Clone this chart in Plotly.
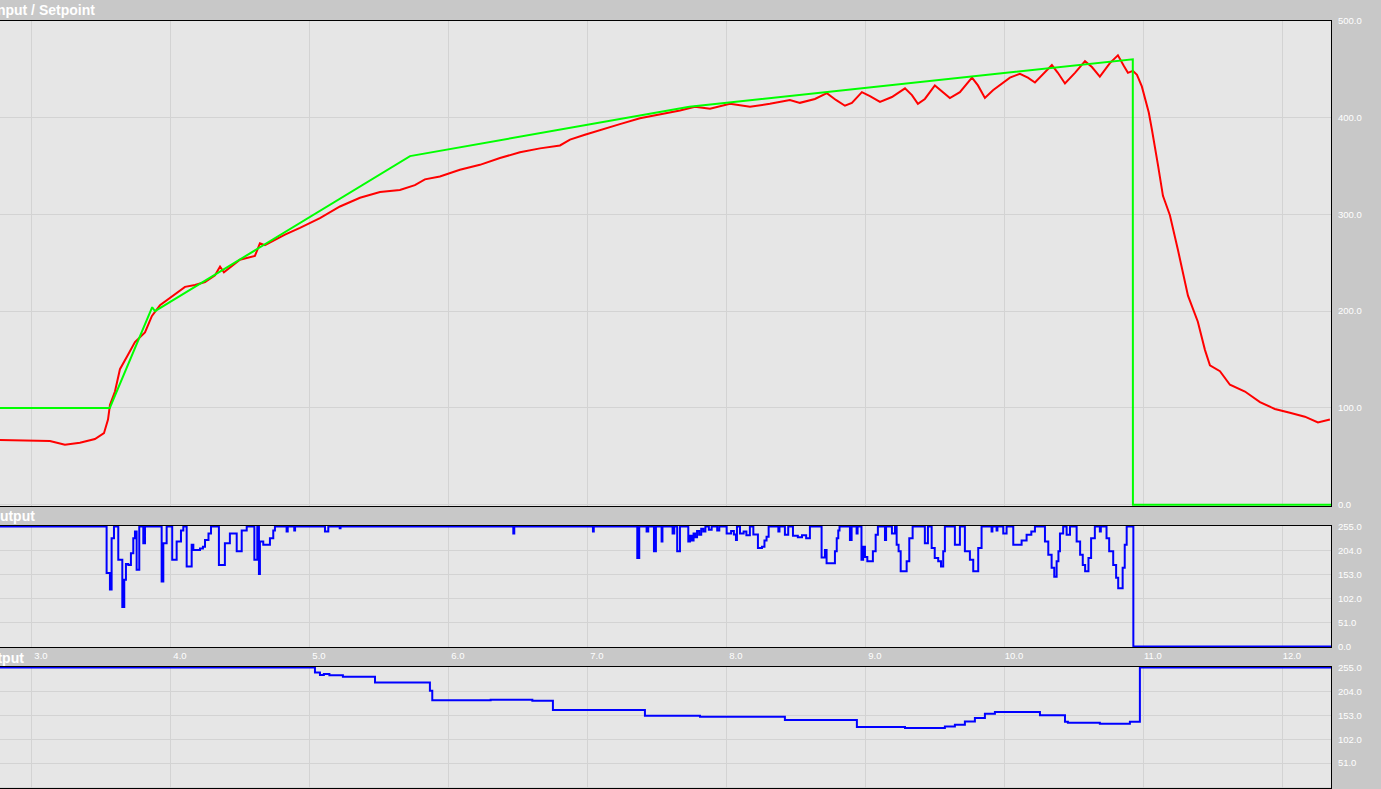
import plotly.graph_objects as go

# ---------------- data ----------------
# Setpoint (green)
sp_t = [2.770, 3.560, 3.865, 3.885, 5.720, 7.730, 10.920, 10.921, 12.346]
sp_v = [100, 100, 204, 200, 360, 411, 460, 0, 0]

# Input (red)
in_t = [2.770, 2.986, 3.129, 3.237, 3.345, 3.453, 3.518, 3.547, 3.561, 3.597,
        3.633, 3.691, 3.741, 3.813, 3.863, 3.921, 3.978, 4.029, 4.101, 4.173,
        4.245, 4.317, 4.353, 4.381, 4.496, 4.604, 4.640, 4.676, 4.820, 4.928,
        5.072, 5.216, 5.360, 5.504, 5.647, 5.755, 5.827, 5.935, 6.079, 6.223,
        6.367, 6.511, 6.655, 6.799, 6.871, 6.978, 7.086, 7.230, 7.374, 7.518,
        7.662, 7.770, 7.878, 8.022, 8.166, 8.309, 8.453, 8.525, 8.633, 8.719,
        8.784, 8.849, 8.899, 8.971, 9.029, 9.101, 9.187, 9.281, 9.331, 9.374,
        9.424, 9.496, 9.547, 9.604, 9.676, 9.763, 9.806, 9.856, 9.914, 9.964,
        10.036, 10.108, 10.165, 10.216, 10.288, 10.338, 10.381, 10.432, 10.504, 10.576,
        10.626, 10.683, 10.755, 10.813, 10.856, 10.885, 10.921, 10.950, 10.985, 11.007,
        11.035, 11.058, 11.080, 11.101, 11.137, 11.187, 11.245, 11.317, 11.388, 11.439,
        11.475, 11.547, 11.619, 11.727, 11.835, 11.942, 12.050, 12.158, 12.252, 12.338]
in_v = [67, 66, 66, 62, 64, 68, 74, 88, 103, 117,
        140, 155, 168, 178, 195, 206, 212, 218, 225, 227,
        230, 237, 246, 240, 253, 257, 270, 268, 279, 286,
        296, 308, 317, 323, 325, 330, 336, 339, 346, 351,
        358, 364, 368, 371, 377, 382, 387, 393, 399, 403,
        407, 411, 409, 414, 411, 414, 418, 415, 419, 425,
        418, 412, 415, 426, 422, 416, 421, 430, 423, 414,
        419, 433, 427, 420, 426, 441, 433, 420, 428, 433,
        441, 445, 441, 436, 446, 454, 446, 435, 446, 458,
        452, 442, 456, 464, 453, 446, 448, 444, 432, 420,
        405, 387, 370, 351, 319, 299, 263, 216, 189, 160,
        144, 138, 124, 117, 106, 99, 95, 91, 85, 88]

# Output (middle panel, blue)
out1_t = [2.770, 3.537, 3.561, 3.573, 3.590, 3.621, 3.650, 3.664, 3.676, 3.693,
          3.712, 3.729, 3.741, 3.753, 3.772, 3.801, 3.813, 3.933, 3.945, 3.969,
          4.009, 4.041, 4.072, 4.089, 4.113, 4.149, 4.161, 4.209, 4.230, 4.245,
          4.270, 4.288, 4.345, 4.388, 4.424, 4.473, 4.509, 4.545, 4.600, 4.621,
          4.633, 4.640, 4.664, 4.712, 4.736, 4.748, 4.832, 4.840, 4.887, 4.893,
          5.108, 5.132, 5.214, 5.220, 6.463, 6.470, 7.036, 7.042, 7.355, 7.369,
          7.422, 7.434, 7.475, 7.489, 7.530, 7.536, 7.609, 7.621, 7.642, 7.662,
          7.722, 7.734, 7.746, 7.760, 7.770, 7.785, 7.800, 7.815, 7.830, 7.845,
          7.870, 7.890, 7.930, 7.945, 7.998, 8.030, 8.050, 8.065, 8.072, 8.094,
          8.120, 8.140, 8.165, 8.190, 8.223, 8.252, 8.270, 8.285, 8.300, 8.370,
          8.378, 8.417, 8.441, 8.475, 8.510, 8.540, 8.570, 8.597, 8.681, 8.705,
          8.717, 8.741, 8.777, 8.790, 8.801, 8.810, 8.885, 8.897, 8.933, 8.940,
          8.968, 8.980, 8.993, 9.010, 9.029, 9.050, 9.070, 9.086, 9.137, 9.145,
          9.187, 9.209, 9.221, 9.235, 9.250, 9.293, 9.312, 9.336, 9.424, 9.446,
          9.473, 9.495, 9.520, 9.540, 9.556, 9.568, 9.640, 9.676, 9.712, 9.748,
          9.772, 9.808, 9.832, 9.904, 9.910, 9.940, 9.946, 9.988, 10.012, 10.060,
          10.096, 10.120, 10.156, 10.190, 10.216, 10.288, 10.312, 10.336, 10.355, 10.372,
          10.385, 10.396, 10.419, 10.444, 10.468, 10.516, 10.541, 10.560, 10.577, 10.601,
          10.620, 10.647, 10.683, 10.690, 10.731, 10.750, 10.779, 10.800, 10.815, 10.847,
          10.862, 10.876, 10.924, 12.346]
out1_v = [255, 156, 121, 230, 255, 184, 84, 142, 175, 173,
          198, 230, 244, 163, 255, 219, 255, 138, 219, 255,
          184, 223, 246, 255, 170, 216, 205, 208, 212, 226,
          240, 255, 173, 219, 240, 202, 246, 255, 184, 255,
          154, 223, 216, 230, 246, 255, 244, 255, 246, 255,
          244, 255, 251, 255, 240, 255, 244, 255, 188, 255,
          244, 255, 202, 255, 223, 255, 240, 255, 202, 255,
          223, 235, 225, 240, 232, 245, 237, 250, 244, 255,
          248, 255, 246, 255, 240, 245, 238, 226, 255, 240,
          244, 236, 255, 238, 209, 212, 225, 233, 255, 244,
          255, 237, 255, 235, 232, 236, 230, 255, 189, 205,
          177, 177, 202, 230, 246, 255, 226, 255, 240, 255,
          184, 212, 190, 181, 181, 202, 237, 255, 226, 255,
          240, 255, 216, 202, 160, 181, 230, 255, 219, 255,
          209, 188, 181, 170, 202, 255, 216, 255, 202, 184,
          160, 209, 255, 244, 255, 246, 255, 240, 255, 216,
          216, 225, 237, 244, 255, 223, 195, 167, 148, 181,
          202, 240, 255, 237, 255, 223, 195, 173, 160, 188,
          230, 255, 244, 255, 230, 202, 173, 146, 124, 167,
          216, 255, 0, 0]

# Output (bottom panel, blue)
out2_t = [2.770, 5.036, 5.072, 5.100, 5.140, 5.237, 5.468, 5.863, 5.880, 6.300,
          6.600, 6.748, 7.410, 7.806, 8.417, 8.935, 9.281, 9.568, 9.640, 9.712,
          9.784, 9.856, 9.928, 10.252, 10.432, 10.453, 10.683, 10.899, 10.971, 12.346]
out2_v = [255, 244, 239, 241, 238, 235, 223, 205, 185, 186,
          184, 164, 152, 150, 143, 128, 126, 129, 133, 140,
          147, 156, 160, 153, 139, 137, 135, 139, 255, 255]

x_range = [2.770, 12.346]
top_ticks = [0, 100, 200, 300, 400, 500]
out_ticks = [0, 51, 102, 153, 204, 255]

# ---------------- figure ----------------
W, H = 1381, 789
PAPER = "#c8c8c8"
PLOT = "#e6e6e6"
GRID = "#d3d3d3"
LBL = dict(family="Liberation Sans, Arial, sans-serif", size=9.5, color="white")
TTL = dict(family="Liberation Sans, Arial, sans-serif", size=14, color="white", weight="bold")


def ydom(top_px, bot_px):
    return [1 - bot_px / H, 1 - top_px / H]


fig = go.Figure()
fig.add_trace(go.Scatter(x=in_t, y=in_v, mode="lines", line=dict(color="#ff0000", width=2),
                         xaxis="x", yaxis="y", showlegend=False))
fig.add_trace(go.Scatter(x=sp_t, y=sp_v, mode="lines", line=dict(color="#00ff00", width=2),
                         xaxis="x", yaxis="y", showlegend=False))
fig.add_trace(go.Scatter(x=out1_t, y=out1_v, mode="lines", line=dict(color="#0000ff", width=2, shape="hv"),
                         xaxis="x2", yaxis="y2", showlegend=False))
fig.add_trace(go.Scatter(x=out2_t, y=out2_v, mode="lines", line=dict(color="#0000ff", width=2, shape="hv"),
                         xaxis="x3", yaxis="y3", showlegend=False))

xcommon = dict(range=x_range, tick0=0, dtick=1, showgrid=True, gridcolor=GRID, gridwidth=1,
               zeroline=False, showline=True, mirror=True, linecolor="black", linewidth=1,
               ticks="", tickformat=".1f", tickfont=LBL, automargin=False)
ycommon = dict(side="right", showgrid=True, gridcolor=GRID, gridwidth=1, zeroline=False,
               showline=True, linecolor="black", linewidth=1, ticks="", tickformat=".1f",
               tickfont=LBL, ticklabelstandoff=4, automargin=False)

fig.update_layout(
    width=W, height=H,
    margin=dict(l=0, r=50, t=0, b=0, pad=0, autoexpand=False),
    paper_bgcolor=PAPER, plot_bgcolor=PLOT,
    xaxis=dict(xcommon, anchor="y", showticklabels=False),
    xaxis2=dict(xcommon, anchor="y2", matches="x", showticklabels=True,
                ticklabelshift=9, ticklabelstandoff=0),
    xaxis3=dict(xcommon, anchor="y3", matches="x", showticklabels=False),
    yaxis=dict(ycommon, anchor="x", domain=ydom(20.5, 506), range=[-1.2, 500], tickvals=top_ticks),
    yaxis2=dict(ycommon, anchor="x2", domain=ydom(526, 647), range=[-0.8, 255.8], tickvals=out_ticks),
    yaxis3=dict(ycommon, anchor="x3", domain=ydom(667, 787.5), range=[-0.8, 255.8], tickvals=out_ticks),
    annotations=[
        dict(text="Input / Setpoint", xref="paper", yref="paper", x=97 / 1331, y=1 - 9.5 / H,
             xanchor="right", yanchor="middle", showarrow=False, font=TTL),
        dict(text="Output", xref="paper", yref="paper", x=37 / 1331, y=1 - 516 / H,
             xanchor="right", yanchor="middle", showarrow=False, font=TTL),
        dict(text="Output", xref="paper", yref="paper", x=26 / 1331, y=1 - 658 / H,
             xanchor="right", yanchor="middle", showarrow=False, font=TTL),
    ],
)

fig.write_html(
    "out.html",
    config={"displayModeBar": False},
    post_script="document.body.style.margin='0';document.body.style.padding='0';"
                "document.documentElement.style.overflow='hidden';",
)
